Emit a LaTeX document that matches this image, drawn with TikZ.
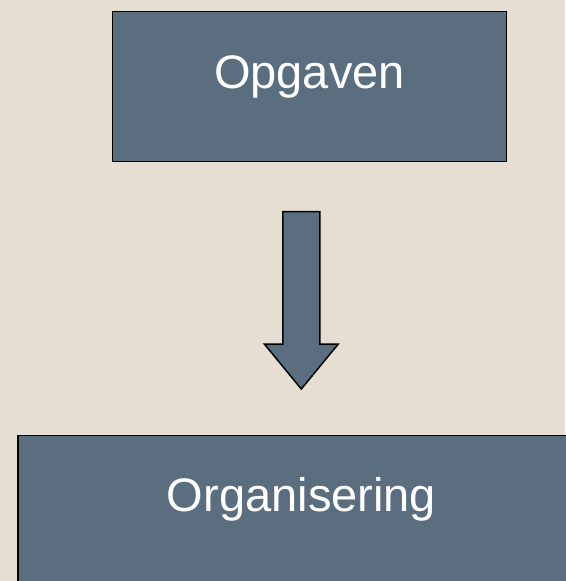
\documentclass[tikz,border=0pt]{standalone}
\usepackage{fontspec}
\setmainfont{Liberation Sans}

\definecolor{achtergrond}{HTML}{E7DED3}
\definecolor{leisteen}{HTML}{5B6E80}

\tikzset{
    blok/.style={draw=black, line width=1.5pt, fill=leisteen, text=white,
      font=\fontsize{47}{56}\selectfont, inner sep=0pt,
      text height=0.75em, text depth=0.43em},
    pijl/.style={draw=black, line width=1.5pt, fill=leisteen, line join=miter}
}

\begin{document}
\begin{tikzpicture}[x=1pt,y=-1pt]
    \fill[achtergrond] (0,0) rectangle (565,581);
    \useasboundingbox (0,0) rectangle (565,581);
    \node[blok, minimum width=394pt, minimum height=150pt] (opgaven) at (309.5,86.6) {Opgaven};
    \node[blok, minimum width=567pt, minimum height=150pt, text depth=0.61em] (organisering) at (301.5,510.7) {Organisering};
    % blokpijl tussen de twee blokken
    \coordinate (pijlpunt) at (301.3,389);
    \draw[pijl] (pijlpunt) -- ++(-37,-45) -- ++(18.5,0) -- ++(0,-132.3) -- ++(37,0)
      -- ++(0,132.3) -- ++(18.5,0) -- cycle;
\end{tikzpicture}
\end{document}
